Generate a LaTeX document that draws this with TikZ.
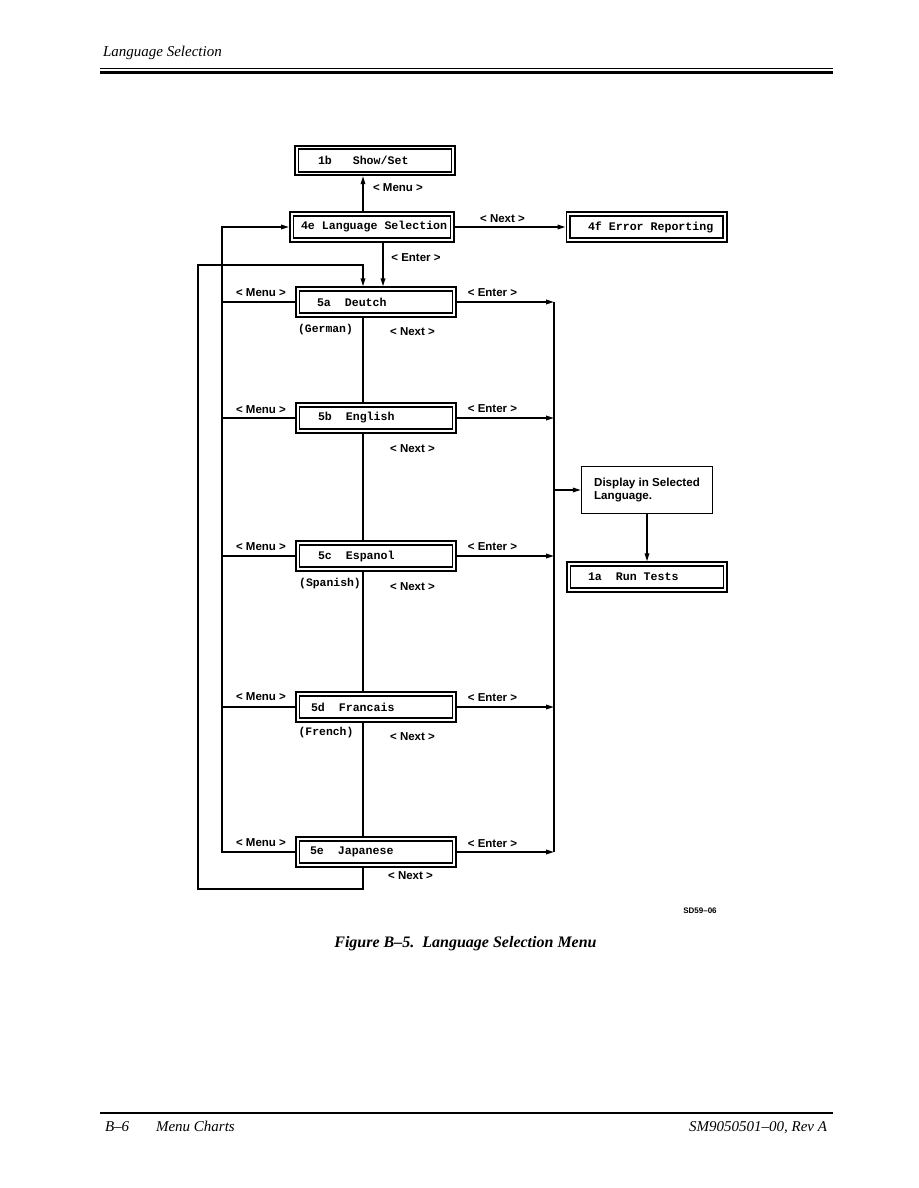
\documentclass[tikz,border=0pt]{standalone}
\usepackage{fontspec}
\setmainfont{Liberation Serif}
\setsansfont{Liberation Sans}
\setmonofont{Liberation Mono}
\usetikzlibrary{arrows.meta}

\tikzset{
  menubox/.style={draw, line width=1.8pt, double, double distance=1.8pt,
    inner xsep=0pt, minimum width=156.6pt, minimum height=26pt, outer sep=2.7pt,
    font=\fontsize{11.6}{13}\ttfamily\bfseries},
  infobox/.style={draw, line width=1.4pt, minimum width=131pt, minimum height=47pt,
    align=left, outer sep=0.7pt, font=\fontsize{11.6}{13}\sffamily\bfseries},
  keylabel/.style={font=\fontsize{11.5}{13}\sffamily\bfseries},
  note/.style={font=\fontsize{11.4}{13}\ttfamily\bfseries},
  pagetext/.style={font=\fontsize{15}{17}\itshape},
}
\newcommand{\boxline}[2]{\makebox[150pt][l]{\hspace*{#1pt}#2}}

\begin{document}
\begin{tikzpicture}[x=1pt, y=-1pt, line width=1.4pt,
    >={Triangle[length=8pt,width=4.6pt]}]
  \useasboundingbox (0,0) rectangle (918,1188);
  % Page head and foot
  \node[pagetext, anchor=base west] (header) at (99,57) {Language Selection};
  \draw[line width=1pt] (100,68.5) -- (833,68.5);
  \draw[line width=3pt] (100,73) -- (833,73);
  \draw[line width=1.3pt] (100,1113) -- (833,1113);
  \node[pagetext, anchor=base west] (pageno) at (101,1131) {B–6};
  \node[pagetext, anchor=base west] (chapter) at (152,1131) {Menu Charts};
  \node[pagetext, anchor=base east] (docno) at (831,1131) {SM9050501–00, Rev A};
  \node[font=\fontsize{8}{9}\sffamily\bfseries] (artno) at (700,911) {SD59–06};
  \node[font=\fontsize{16}{18}\bfseries\itshape] (caption) at (465.5,944) {Figure B–5.~~Language Selection Menu};

  % Helper coordinates
  \coordinate (spine) at (363,0);
  \coordinate (enterx) at (383,0);
  \coordinate (menubus) at (222,0);
  \coordinate (enterbus) at (554,0);
  \coordinate (loopsw) at (198,889);
  \coordinate (loopnw) at (198,265);

  % Menu boxes
  \node[menubox] (showset) at (375,160.5) {\boxline{18}{1b~~~Show/Set}};
  \node[menubox, minimum width=160.6pt] (langsel) at (372,227) {\boxline{4}{4e Language Selection}};
  \node[menubox] (errrep) at (646.5,227) {\boxline{16.5}{4f Error Reporting}};
  \node[menubox] (deutch) at (376,302) {\boxline{16}{5a~~Deutch}};
  \node[menubox] (english) at (376,418) {\boxline{17}{5b~~English}};
  \node[menubox] (espanol) at (376,556) {\boxline{17}{5c~~Espanol}};
  \node[menubox] (francais) at (376,707) {\boxline{10}{5d~~Francais}};
  \node[menubox] (japanese) at (376,852) {\boxline{9}{5e~~Japanese}};
  \node[infobox] (display) at (647,490) {Display in Selected\\Language.};
  \node[menubox] (runtests) at (647,577) {\boxline{16}{1a~~Run Tests}};

  % Language Selection arrows
  \draw[->] (langsel.north -| spine) -- (showset.south -| spine);
  \node[keylabel] (menuup) at (398,188) {< Menu >};
  \draw[->] (langsel.east) -- (langsel.east -| errrep.west);
  \node[keylabel] (nexttop) at (502.5,219) {< Next >};
  \draw[->] (langsel.south -| enterx) -- (deutch.north -| enterx);
  \node[keylabel] (entertop) at (416,258) {< Enter >};

  % Menu lines back to 4e
  \draw[->] (japanese.west) -| (menubus |- langsel.west) -- (langsel.west);
  \foreach \lang in {deutch,english,espanol,francais}
    \draw (\lang.west) -- (\lang.west -| menubus);

  % Next loop from 5e back to 5a
  \draw[->] (japanese.south -| spine) |- (loopsw) -- (loopnw) -| (deutch.north -| spine);
  \foreach \a/\b in {deutch/english,english/espanol,espanol/francais,francais/japanese}
    \draw (\a.south -| spine) -- (\b.north -| spine);

  % Enter lines
  \foreach \lang in {deutch,english,espanol,francais,japanese}
    \draw[->] (\lang.east) -- (\lang.east -| enterbus);
  \draw (deutch.east -| enterbus) -- (japanese.east -| enterbus);
  \draw[->] (display.west -| enterbus) -- (display.west);
  \draw[->] (display.south) -- (runtests.north);

  % Key labels
  \foreach \y [count=\i] in {293,409.5,547,697,842.5}
    \node[keylabel] (menu\i) at (261,\y) {< Menu >};
  \foreach \y [count=\i] in {293,409,547,698,844}
    \node[keylabel] (enter\i) at (492.5,\y) {< Enter >};
  \foreach \y [count=\i] in {332,449,587,737}
    \node[keylabel] (next\i) at (412.5,\y) {< Next >};
  \node[keylabel] (next5) at (410.5,876) {< Next >};

  % Language names
  \node[note] (german) at (325.5,330) {(German)};
  \node[note] (spanish) at (330,584) {(Spanish)};
  \node[note] (french) at (326,733) {(French)};
\end{tikzpicture}
\end{document}
